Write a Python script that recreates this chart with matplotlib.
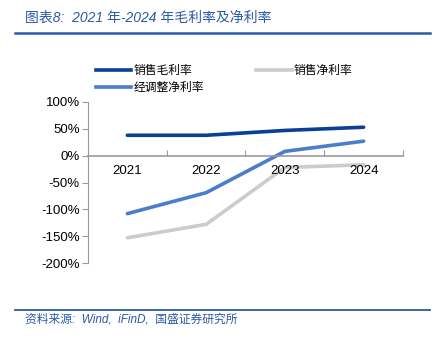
import numpy as np
import matplotlib.pyplot as plt
from matplotlib.lines import Line2D

plt.rcParams['font.family'] = ['Liberation Sans', 'Noto Sans CJK SC', 'DejaVu Sans']

years = ['2021', '2022', '2023', '2024']
gross = [38, 38, 47, 53]
net = [-153, -128, -22, -17]
adj_net = [-108, -69, 8, 27]

c_gross = '#0b3f95'
c_adj = '#4a7ec8'
c_net = '#cccccc'
c_head = '#2a5aa8'

fig = plt.figure(figsize=(4.35, 3.42), dpi=100)
ax = fig.add_axes([88/435, 1-263/342, 315/435, 161/342])

x = np.arange(len(years))
ax.plot(x, gross, color=c_gross, lw=2.6, solid_capstyle='round', label='销售毛利率')
ax.plot(x, adj_net, color=c_adj, lw=2.6, solid_capstyle='round', label='经调整净利率')
ax.plot(x, net, color=c_net, lw=2.6, solid_capstyle='round', label='销售净利率')

ax.set_xlim(-0.5, 3.5)
ax.set_ylim(-200, 100)
ax.set_yticks(np.arange(-200, 101, 50))
ax.set_yticklabels([f'{v}%' for v in range(-200, 101, 50)], fontsize=9.5)

ax.spines['top'].set_visible(False)
ax.spines['right'].set_visible(False)
ax.spines['left'].set_color('#999999')
ax.spines['bottom'].set_position(('data', 0))
ax.spines['bottom'].set_color('#999999')
ax.spines['bottom'].set_linewidth(1.2)

ax.set_xticks(np.arange(-0.5, 3.6, 1))
ax.set_xticklabels([])
ax.tick_params(axis='x', direction='in', length=4, color='#999999')
ax.tick_params(axis='y', direction='out', length=4, color='#999999', pad=2)
for xi, yr in zip(x, years):
    ax.text(xi, -17, yr, ha='center', va='top', fontsize=9.5)

handles = [Line2D([], [], color=c_gross, lw=2.6),
           Line2D([], [], color=c_adj, lw=2.6),
           Line2D([], [], color=c_net, lw=2.6)]
fig.legend(handles, ['销售毛利率', '经调整净利率', '销售净利率'], ncol=2,
           loc='upper left', bbox_to_anchor=(90/435, 1-59/342), frameon=False,
           fontsize=8.5, handlelength=3.0, handletextpad=0.2, columnspacing=4.4,
           labelspacing=0.45, borderpad=0)

# header and footer
fig.text(25/435, 1-18/342, '图表8:  2021 年-2024 年毛利率及净利率', color=c_head,
         fontsize=10, style='italic', va='center', ha='left')
fig.add_artist(Line2D([15/435, 430/435], [1-33/342, 1-33/342], color=c_head, lw=1.8))
fig.add_artist(Line2D([15/435, 430/435], [1-310/342, 1-310/342], color=c_head, lw=1.3))
fig.text(25/435, 1-320/342, '资料来源:  Wind,  iFinD,  国盛证券研究所', color=c_head,
         fontsize=8.5, style='italic', va='center', ha='left')

fig.savefig('out.png', dpi=100)
